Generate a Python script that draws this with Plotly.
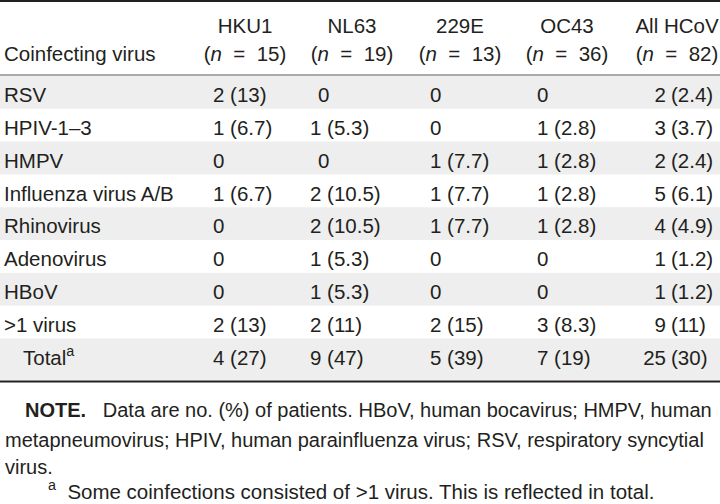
import plotly.graph_objects as go

# ---------------- data ----------------
row_labels = ["RSV", "HPIV-1–3", "HMPV", "Influenza virus A/B", "Rhinovirus",
              "Adenovirus", "HBoV", ">1 virus", "Total<sup>a</sup>"]
col_names = ["HKU1", "NL63", "229E", "OC43", "All HCoV"]
col_n = [15, 19, 13, 36, 82]

hku1_cnt = [2, 1, 0, 1, 0, 0, 0, 2, 4]
hku1_pct = ["13", "6.7", "", "6.7", "", "", "", "13", "27"]
nl63_cnt = [0, 1, 0, 2, 2, 1, 1, 2, 9]
nl63_pct = ["", "5.3", "", "10.5", "10.5", "5.3", "5.3", "11", "47"]
e229_cnt = [0, 0, 1, 1, 1, 0, 0, 2, 5]
e229_pct = ["", "", "7.7", "7.7", "7.7", "", "", "15", "39"]
oc43_cnt = [0, 1, 1, 1, 1, 0, 0, 3, 7]
oc43_pct = ["", "2.8", "2.8", "2.8", "2.8", "", "", "8.3", "19"]
all_cnt = [2, 3, 2, 5, 4, 1, 1, 9, 25]
all_pct = ["2.4", "3.7", "2.4", "6.1", "4.9", "1.2", "1.2", "11", "30"]

note_line1 = "Data are no. (%) of patients. HBoV, human bocavirus; HMPV, human"
note_line2 = "metapneumovirus; HPIV, human parainfluenza virus; RSV, respiratory syncytial"
note_line3 = "virus."
footnote = "Some coinfections consisted of >1 virus. This is reflected in total."

# ---------------- layout constants ----------------
W, H = 720, 504
FONT = "Liberation Sans"
TXT = "#231f20"
FS = 20.5
row_y0 = 97.0
pitch = 32.8
band_top0 = 76.0
nrows = len(row_labels)
row_y = [row_y0 + pitch * i for i in range(nrows)]

fig = go.Figure()

# shading bands
for i in range(0, nrows, 2):
    top = band_top0 + pitch * i
    bot = 380 if i == nrows - 1 else top + pitch
    fig.add_shape(type="rect", x0=0, x1=W, y0=top, y1=bot, xref="x", yref="y",
                  fillcolor="#eeeeee", line_width=0, layer="below")

# rules
fig.add_shape(type="line", x0=0, x1=W, y0=1, y1=1, line=dict(color="#231f20", width=2))
fig.add_shape(type="line", x0=0, x1=W, y0=75, y1=75, line=dict(color="#555555", width=1))
fig.add_shape(type="line", x0=0, x1=W, y0=381.5, y1=381.5, line=dict(color="#231f20", width=2))

font = dict(family=FONT, size=FS, color=TXT)

# header
fig.add_trace(go.Scatter(x=[4], y=[55.5], mode="text", text=["Coinfecting virus"],
                         textposition="middle right", textfont=font, hoverinfo="skip"))
hdr_x = [245, 352, 460, 567, 677]
fig.add_trace(go.Scatter(x=hdr_x, y=[28] * 5, mode="text", text=col_names,
                         textposition="middle center", textfont=font, hoverinfo="skip"))
nb = "\u00a0"
fig.add_trace(go.Scatter(x=hdr_x, y=[56] * 5, mode="text",
                         text=[f"(<i>n</i>{nb}{nb}={nb}{nb}{n})" for n in col_n],
                         textposition="middle center", textfont=font, hoverinfo="skip"))

# row labels
lab_x = [4] * (nrows - 1) + [23]
fig.add_trace(go.Scatter(x=lab_x, y=row_y, mode="text", text=row_labels,
                         textposition="middle right", textfont=font, hoverinfo="skip"))

def fmt(c, p):
    return f"{c} ({p})" if c else "0"

cols = [(hku1_cnt, hku1_pct), (nl63_cnt, nl63_pct), (e229_cnt, e229_pct), (oc43_cnt, oc43_pct)]
col_x = [213, 310, 430, 537]
zero_shift = [0, 8, 0, 0]
for (cnt, pct), x0, zs in zip(cols, col_x, zero_shift):
    xs = [x0 + (zs if c == 0 else 0) for c in cnt]
    fig.add_trace(go.Scatter(x=xs, y=row_y, mode="text",
                             text=[fmt(c, p) for c, p in zip(cnt, pct)],
                             textposition="middle right", textfont=font, hoverinfo="skip"))

# last column aligned on the parenthesis
fig.add_trace(go.Scatter(x=[666] * nrows, y=row_y, mode="text", text=[str(c) for c in all_cnt],
                         textposition="middle left", textfont=font, hoverinfo="skip"))
fig.add_trace(go.Scatter(x=[671] * nrows, y=row_y, mode="text", text=[f"({p})" for p in all_pct],
                         textposition="middle right", textfont=font, hoverinfo="skip"))

# notes
nfont = dict(family=FONT, size=20, color=TXT)
fig.add_annotation(x=23, y=410, xref="x", yref="y", xanchor="left", yanchor="middle",
                   text=f"<b>NOTE.</b>{nb}{nb}{nb}" + note_line1, showarrow=False, font=nfont)
fig.add_annotation(x=3, y=440, xref="x", yref="y", xanchor="left", yanchor="middle",
                   text=note_line2, showarrow=False, font=nfont)
fig.add_annotation(x=3, y=467, xref="x", yref="y", xanchor="left", yanchor="middle",
                   text=note_line3, showarrow=False, font=nfont)
fig.add_annotation(x=46, y=490, xref="x", yref="y", xanchor="left", yanchor="middle",
                   text=f"<sup>a</sup>{nb}{nb}" + footnote, showarrow=False,
                   font=dict(family=FONT, size=20.5, color=TXT))

fig.update_layout(width=W, height=H, margin=dict(l=0, r=0, t=0, b=0),
                  paper_bgcolor="white", plot_bgcolor="white", showlegend=False,
                  xaxis=dict(range=[0, W], visible=False, fixedrange=True),
                  yaxis=dict(range=[H, 0], visible=False, fixedrange=True))

fig.write_html("out.html", config={"displayModeBar": False, "staticPlot": True},
               post_script="document.body.style.margin='0px';")
